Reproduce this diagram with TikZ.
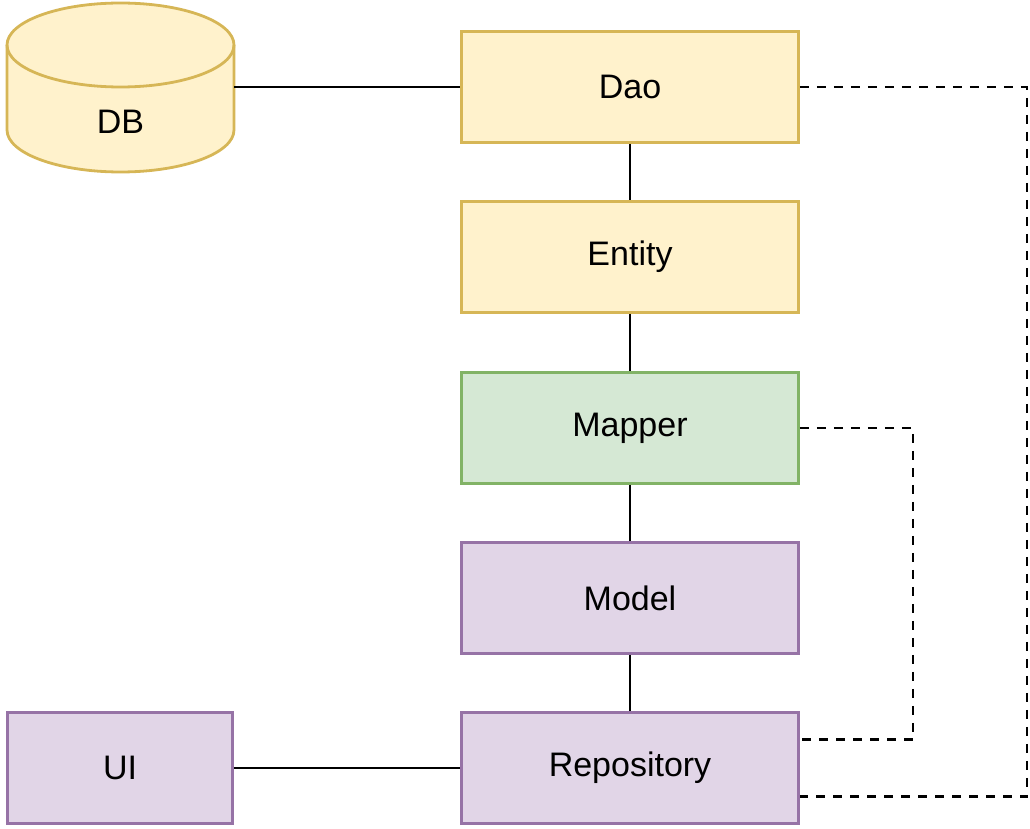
\documentclass[tikz,border=0pt]{standalone}
\usepackage{fontspec}
\setmainfont{Liberation Sans}
\definecolor{yfill}{HTML}{FFF2CC}
\definecolor{ydraw}{HTML}{D6B656}
\definecolor{gfill}{HTML}{D5E8D4}
\definecolor{gdraw}{HTML}{82B366}
\definecolor{pfill}{HTML}{E1D5E7}
\definecolor{pdraw}{HTML}{9673A6}
\begin{document}
\begin{tikzpicture}[x=1pt,y=-1pt,
  box/.style={rectangle, line width=2.8pt, minimum width=337pt, minimum height=111pt,
    inner sep=0pt, font=\fontsize{34}{40}\selectfont},
  yellowbox/.style={box, fill=yfill, draw=ydraw},
  greenbox/.style={box, fill=gfill, draw=gdraw},
  purplebox/.style={box, fill=pfill, draw=pdraw},
  link/.style={line width=2.8pt, draw=black},
  dlink/.style={line width=2.8pt, draw=black, dash pattern=on 9pt off 8pt}]
\useasboundingbox (0,0) rectangle (1030,829);

% database cylinder
\path[fill=yfill, draw=ydraw, line width=2.8pt]
  (7,45) -- (7,130) arc (180:0:113.5 and 42) -- (234,45) arc (0:-180:113.5 and 42) -- cycle;
\draw[ydraw, line width=2.8pt] (7,45) arc (180:0:113.5 and 42);
\node[font=\fontsize{34}{40}\selectfont] (db) at (120.5,122) {DB};
\coordinate (dbside) at (234,87);

% layer boxes
\node[yellowbox] (dao) at (630,87) {Dao};
\node[yellowbox] (entity) at (630,257) {Entity};
\node[greenbox] (mapper) at (630,428) {Mapper};
\node[purplebox] (model) at (630,598) {Model};
\node[purplebox] (repo) at (630,768) {Repository};
\node[purplebox, minimum width=225pt] (ui) at (120,768) {UI};

% solid connectors
\draw[link] (dbside) -- (dao.west);
\draw[link] (dao) -- (entity);
\draw[link] (entity) -- (mapper);
\draw[link] (mapper) -- (model);
\draw[link] (model) -- (repo);
\draw[link] (ui) -- (repo);

% dashed dependencies
\coordinate (outer) at (1027,796.5);
\coordinate (inner) at (913,739.5);
\draw[dlink] (dao.east) -| (outer) -- ([yshift=-28.5pt]repo.east);
\draw[dlink] (mapper.east) -| (inner) -- ([yshift=28.5pt]repo.east);
\end{tikzpicture}
\end{document}
